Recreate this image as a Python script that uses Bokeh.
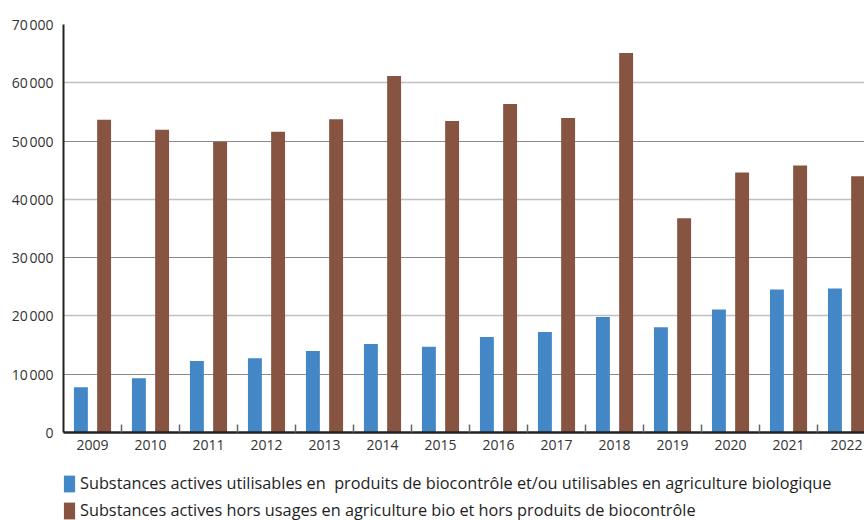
from bokeh.plotting import figure
from bokeh.layouts import column
from bokeh.models import Range1d, FixedTicker, Grid, ColumnDataSource, Legend, LegendItem
from bokeh.transform import dodge
from bokeh.embed import file_html
from bokeh.resources import INLINE

years = ["2009", "2010", "2011", "2012", "2013", "2014", "2015",
         "2016", "2017", "2018", "2019", "2020", "2021", "2022"]
bio = [7750, 9300, 12250, 12750, 14000, 15200, 14700,
       16400, 17250, 19800, 18050, 21100, 24550, 24700]
hors_bio = [53650, 51950, 49900, 51600, 53750, 61150, 53450,
            56350, 53950, 65100, 36750, 44600, 45800, 43950]
y_ticks = [0, 10000, 20000, 30000, 40000, 50000, 60000, 70000]
y_tick_labels = ["0", "10\u202f000", "20\u202f000", "30\u202f000", "40\u202f000",
                 "50\u202f000", "60\u202f000", "70\u202f000"]
series_names = [
    "Substances actives utilisables en  produits de biocontrôle et/ou utilisables en agriculture biologique",
    "Substances actives hors usages en agriculture bio et hors produits de biocontrôle",
]
colors = ["#4387c7", "#875441"]

FONT = "Open Sans"

xpos = [i + 0.5 for i in range(len(years))]
src = ColumnDataSource(dict(x=xpos, bio=bio, hors=hors_bio))

p = figure(width=864, height=458, output_backend="svg", toolbar_location=None,
           x_range=Range1d(0, 13.81), y_range=Range1d(0, 70000),
           min_border_left=63, min_border_right=0, min_border_top=24,
           min_border_bottom=26)
p.outline_line_color = None
p.background_fill_color = "white"
p.border_fill_color = "white"

# grids: odd tens darker, even tens lighter
p.xgrid.visible = False
p.ygrid.visible = False
g1 = Grid(dimension=1, ticker=FixedTicker(ticks=[y_ticks[i] for i in (1, 3, 5, 7)]),
          grid_line_color="#8a8a8a", grid_line_width=1.2)
g2 = Grid(dimension=1, ticker=FixedTicker(ticks=[y_ticks[i] for i in (2, 4, 6)]),
          grid_line_color="#c0c0c0", grid_line_width=1.6)
p.add_layout(g1)
p.add_layout(g2)

p.vbar(x=dodge("x", -0.2, range=p.x_range), top="bio", width=0.24, source=src,
       color=colors[0], line_color=None)
p.vbar(x=dodge("x", 0.2, range=p.x_range), top="hors", width=0.24, source=src,
       color=colors[1], line_color=None)

# y axis
p.yaxis.ticker = FixedTicker(ticks=y_ticks)
p.yaxis.major_label_overrides = {t: l for t, l in zip(y_ticks, y_tick_labels)}
p.yaxis.major_tick_out = 0
p.yaxis.major_tick_in = 0
p.yaxis.minor_tick_out = 0
p.yaxis.minor_tick_in = 0
p.yaxis.axis_line_color = "#222222"
p.yaxis.axis_line_width = 2
p.yaxis.major_label_standoff = 10
p.yaxis.major_label_text_font = FONT
p.yaxis.major_label_text_font_size = "14px"
p.yaxis.major_label_text_color = "#333333"

# x axis
boundaries = [i + 1 for i in range(len(years))]
p.xaxis.ticker = FixedTicker(ticks=xpos, minor_ticks=boundaries)
p.xaxis.major_label_overrides = {x: y for x, y in zip(xpos, years)}
p.xaxis.major_tick_out = 0
p.xaxis.major_tick_in = 0
p.xaxis.minor_tick_out = 0
p.xaxis.minor_tick_in = 8
p.xaxis.minor_tick_line_color = "#666666"
p.xaxis.minor_tick_line_width = 1.5
p.xaxis.axis_line_color = "#222222"
p.xaxis.axis_line_width = 2.5
p.xaxis.major_label_standoff = 7
p.xaxis.major_label_text_font = FONT
p.xaxis.major_label_text_font_size = "14px"
p.xaxis.major_label_text_color = "#333333"

# legend panel as a second figure below the chart; its bar renderers
# share the data source but lie outside the visible ranges (legend swatches only)
p2 = figure(width=864, height=62, output_backend="svg", toolbar_location=None,
            x_range=Range1d(-20, -19), y_range=Range1d(-2, -1),
            x_axis_type=None, y_axis_type=None,
            min_border_left=63, min_border_right=0, min_border_top=0,
            min_border_bottom=0)
p2.outline_line_color = None
p2.xgrid.visible = False
p2.ygrid.visible = False
p2.background_fill_color = "white"
p2.border_fill_color = "white"
d1 = p2.vbar(x="x", bottom=0, top="bio", width=0.1, source=src,
             color=colors[0], line_color=None)
d2 = p2.vbar(x="x", bottom=0, top="hors", width=0.1, source=src,
             color=colors[1], line_color=None)

leg = Legend(items=[LegendItem(label=series_names[0], renderers=[d1]),
                    LegendItem(label=series_names[1], renderers=[d2])],
             location=(-1, -1), orientation="vertical")
leg.margin = 0
leg.padding = 0
leg.spacing = 5
leg.glyph_width = 14
leg.glyph_height = 21
leg.label_height = 21
leg.label_standoff = 4
leg.label_text_font = FONT
leg.label_text_font_size = "16.3px"
leg.label_text_color = "#1e1e1e"
leg.background_fill_alpha = 0
leg.border_line_alpha = 0
p2.add_layout(leg)

layout = column(p, p2, spacing=0)
open("out.html", "w").write(file_html(layout, INLINE))
